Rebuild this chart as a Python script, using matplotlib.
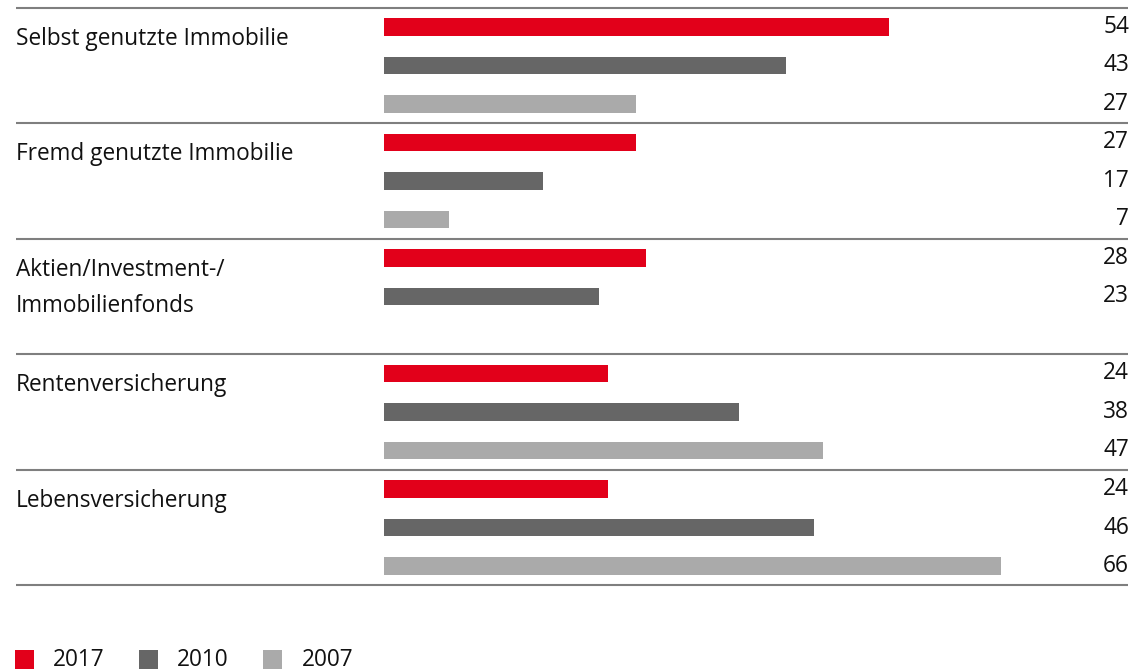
import matplotlib.pyplot as plt
from matplotlib.patches import Rectangle

plt.rcParams['font.family'] = ['Open Sans', 'DejaVu Sans']

# Anteile je Anlageform und Jahr (in Prozent)
categories = ['Selbst genutzte Immobilie', 'Fremd genutzte Immobilie',
              'Aktien/Investment-/\nImmobilienfonds', 'Rentenversicherung',
              'Lebensversicherung']
years = ['2017', '2010', '2007']
values_2017 = [54, 27, 28, 24, 24]
values_2010 = [43, 17, 23, 38, 46]
values_2007 = [27, 7, None, 47, 66]

colors = ['#e2001a', '#666666', '#aaaaaa']
line_color = '#7f7f7f'
text_color = '#111111'
fs = 16.3
fw = 'medium'

fig = plt.figure(figsize=(11.46, 6.71), dpi=100)
ax = fig.add_axes([0, 0, 1, 1])

# x: 0 at the bar baseline, one unit = one percent
px_per_unit = 9.35
x0_px = 384
W, H = 1146, 671
ax.set_xlim(-x0_px / px_per_unit, (W - x0_px) / px_per_unit)
# y: one unit = one bar slot, counted from the top
slot_px = 38.5
y0_px = 27
ax.set_ylim((H - y0_px) / slot_px, -y0_px / slot_px)
ax.axis('off')

x_left = -39.4
x_right = 79.6
x_val = 79.7

series = [values_2017, values_2010, values_2007]
slot = 0
ax.plot([x_left, x_right], [-0.5, -0.5], color=line_color, lw=1.5,
        solid_capstyle='butt')
for i, cat in enumerate(categories):
    start = slot
    for j, vals in enumerate(series):
        v = vals[i]
        if v is None:
            continue
        y = start + j
        ax.barh(y, v, height=0.46, left=0, color=colors[j])
        ax.text(x_val, y, str(v), ha='right', va='center', fontsize=fs,
                fontweight=fw, color=text_color)
    for k, line in enumerate(cat.split('\n')):
        ax.text(x_left, start + 0.3 + k * 0.95, line, ha='left',
                va='center', fontsize=fs, fontweight=fw, color=text_color)
    slot += 3
    ax.plot([x_left, x_right], [slot - 0.5, slot - 0.5], color=line_color,
            lw=1.5, solid_capstyle='butt')

# Legende unten links
leg_y = 16.44
leg_x = [-39.5, -26.2, -12.9]
sq_w = 19 / px_per_unit
sq_h = 19 / slot_px
for k, yr in enumerate(years):
    ax.add_patch(Rectangle((leg_x[k], leg_y - sq_h / 2), sq_w, sq_h,
                           color=colors[k], lw=0))
    ax.text(leg_x[k] + 38 / px_per_unit, leg_y, yr, ha='left', va='center',
            fontsize=fs, fontweight=fw, color=text_color)

fig.savefig('out.png', dpi=100)
